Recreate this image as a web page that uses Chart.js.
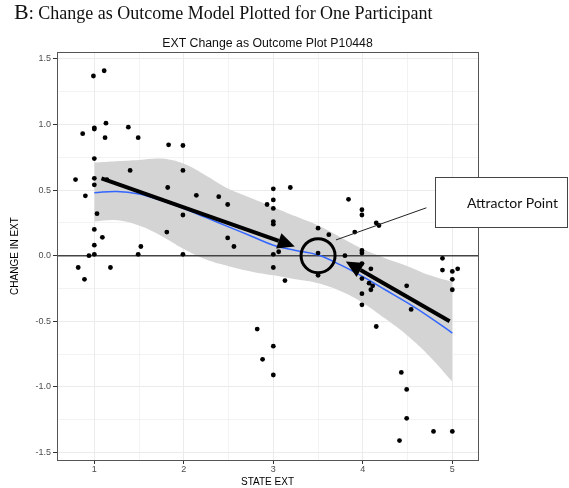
<!DOCTYPE html>
<html>
<head>
<meta charset="utf-8">
<script src="https://cdn.jsdelivr.net/npm/chart.js@4/dist/chart.umd.min.js"></script>
<style>
  html, body { margin: 0; padding: 0; background: #fff; }
  #wrap { width: 569px; height: 488px; }
</style>
</head>
<body>
<div id="wrap"><canvas id="attractorChart" width="569" height="488"></canvas></div>
<script>
// 散布図の値（STATE EXT と CHANGE IN EXT）
const stateExt = [
  1.11, 0.99, 0.87, 1.00, 1.00, 1.13, 1.12, 1.38, 1.49, 1.83, 1.99, 1.00, 0.79, 1.00, 1.00,
  1.14, 1.40, 1.99, 1.82, 0.90, 1.03, 1.00, 1.09, 1.00, 1.00, 0.94, 0.82, 0.89, 1.18, 1.49,
  1.52, 1.81, 1.99, 1.99, 2.14, 2.39, 2.49, 3.00, 3.19, 2.93, 3.00, 3.00, 3.00, 3.00, 2.49,
  2.56, 3.06, 3.00, 3.00, 3.13, 3.50, 3.62, 3.50, 3.50, 3.84, 3.80, 3.99, 3.99, 4.15, 4.18,
  3.91, 3.99, 3.99, 3.99, 4.09, 3.99, 4.07, 4.11, 4.09, 3.99, 3.99, 4.49, 4.54, 4.89, 4.89,
  5.00, 5.06, 5.00, 5.00, 4.15, 4.43, 4.49, 4.49, 4.79, 5.00, 4.41, 2.82, 3.00, 2.88, 3.00
];
const changeExt = [
  1.41, 1.37, 0.93, 0.975, 0.965, 1.01, 0.90, 0.98, 0.90, 0.845, 0.84, 0.74, 0.58, 0.59, 0.54,
  0.58, 0.65, 0.65, 0.52, 0.456, 0.32, 0.20, 0.14, 0.08, 0.01, 0.00, -0.09, -0.18, -0.09, 0.01,
  0.07, 0.18, 0.31, 0.01, 0.46, 0.45, 0.39, 0.51, 0.52, 0.39, 0.425, 0.36, 0.26, 0.24, 0.135,
  0.07, 0.03, 0.01, -0.09, -0.19, 0.21, 0.16, 0.02, -0.15, 0.43, 0.00, 0.35, 0.31, 0.25, 0.23,
  0.18, 0.04, 0.02, -0.06, -0.10, -0.175, -0.21, -0.23, -0.26, -0.29, -0.375, -0.23, -0.41, -0.02, -0.11,
  -0.12, -0.10, -0.18, -0.26, -0.54, -0.89, -1.02, -1.24, -1.34, -1.34, -1.41, -0.56, -0.69, -0.79, -0.91
];

// loess 曲線と信頼区間
const smoothX = [1.0, 1.25, 1.5, 1.75, 2.0, 2.25, 2.5, 2.75, 3.0, 3.25, 3.5, 3.75, 4.0, 4.25, 4.5, 4.75, 5.0];
const smoothY = [0.48, 0.49, 0.47, 0.42, 0.36, 0.29, 0.22, 0.15, 0.08, 0.04, 0.005, -0.07, -0.16, -0.26, -0.36, -0.47, -0.59];
const bandUpper = [0.71, 0.72, 0.73, 0.74, 0.70, 0.61, 0.51, 0.44, 0.37, 0.30, 0.23, 0.14, 0.05, -0.02, -0.08, -0.15, -0.20];
const bandLower = [0.26, 0.27, 0.23, 0.15, 0.05, -0.03, -0.08, -0.12, -0.15, -0.18, -0.21, -0.27, -0.36, -0.48, -0.61, -0.77, -0.96];

// 目盛り
const xTicks = [1, 1.5, 2, 2.5, 3, 3.5, 4, 4.5, 5];
const yTicks = [-1.5, -1.25, -1, -0.75, -0.5, -0.25, 0, 0.25, 0.5, 0.75, 1, 1.25, 1.5];

// 注釈（矢印・円・引き出し線）データ座標
const arrowStarts = [[1.08, 0.59], [4.97, -0.50]];
const arrowEnds = [[3.24, 0.07], [3.81, -0.045]];
const attractorPoint = [3.5, 0.0];
const leaderLine = [[4.71, 0.365], [3.70, 0.12]];

const points = stateExt.map((x, i) => ({ x: x, y: changeExt[i] }));
const toXY = (ys) => smoothX.map((x, i) => ({ x: x, y: ys[i] }));
const isHalf = (v) => Math.abs(v * 2 - Math.round(v * 2)) < 1e-9;

function drawArrow(ctx, x1, y1, x2, y2) {
    const ang = Math.atan2(y2 - y1, x2 - x1);
    const head = 17, hw = 8;
    const bx = x2 - head * Math.cos(ang), by = y2 - head * Math.sin(ang);
    ctx.lineWidth = 4;
    ctx.beginPath();
    ctx.moveTo(x1, y1);
    ctx.lineTo(bx, by);
    ctx.stroke();
    ctx.beginPath();
    ctx.moveTo(x2, y2);
    ctx.lineTo(bx + hw * Math.sin(ang), by - hw * Math.cos(ang));
    ctx.lineTo(bx - hw * Math.sin(ang), by + hw * Math.cos(ang));
    ctx.closePath();
    ctx.fill();
}

const annotationPlugin = {
    id: 'attractorNotes',
    beforeDatasetDraw(chart, args) {
        // 0 の水平線は信頼区間の上、曲線の下
        if (args.index !== 1) return;
        const { ctx, chartArea, scales } = chart;
        const y0 = scales.y.getPixelForValue(0);
        ctx.save();
        ctx.strokeStyle = '#444';
        ctx.lineWidth = 1.5;
        ctx.beginPath();
        ctx.moveTo(chartArea.left, y0);
        ctx.lineTo(chartArea.right, y0);
        ctx.stroke();
        ctx.restore();
    },
    afterDraw(chart) {
        const { ctx, chartArea, scales } = chart;
        const px = (v) => scales.x.getPixelForValue(v);
        const py = (v) => scales.y.getPixelForValue(v);
        ctx.save();

        // パネル枠
        ctx.strokeStyle = '#555';
        ctx.lineWidth = 1;
        ctx.strokeRect(chartArea.left + 0.5, chartArea.top + 0.5, chartArea.right - chartArea.left, chartArea.bottom - chartArea.top);

        // 矢印
        ctx.strokeStyle = '#000';
        ctx.fillStyle = '#000';
        arrowStarts.forEach((s, i) => {
            drawArrow(ctx, px(s[0]), py(s[1]), px(arrowEnds[i][0]), py(arrowEnds[i][1]));
        });

        // アトラクター点の円
        ctx.lineWidth = 3;
        ctx.beginPath();
        ctx.arc(px(attractorPoint[0]), py(attractorPoint[1]), 17, 0, Math.PI * 2);
        ctx.stroke();

        // 引き出し線
        ctx.lineWidth = 1;
        ctx.strokeStyle = '#222';
        ctx.beginPath();
        ctx.moveTo(px(leaderLine[0][0]), py(leaderLine[0][1]));
        ctx.lineTo(px(leaderLine[1][0]), py(leaderLine[1][1]));
        ctx.stroke();

        // 吹き出しボックス
        ctx.fillStyle = '#fff';
        ctx.fillRect(435, 177, 134, 50);
        ctx.strokeStyle = '#444';
        ctx.strokeRect(435.5, 177.5, 132, 50);
        ctx.fillStyle = '#111';
        ctx.font = '14px Lato';
        ctx.textBaseline = 'middle';
        ctx.textAlign = 'left';
        ctx.fillText('Attractor Point', 467, 203);

        // タイトル
        ctx.textBaseline = 'alphabetic';
        ctx.font = '22px "Liberation Serif"';
        ctx.fillText('B', 14, 19);
        const bw = ctx.measureText('B').width;
        ctx.font = '18px "Liberation Serif"';
        ctx.fillText(': Change as Outcome Model Plotted for One Participant', 14 + bw, 19);

        ctx.font = '12.3px "Liberation Sans"';
        ctx.textAlign = 'center';
        ctx.fillText('EXT Change as Outcome Plot P10448', (chartArea.left + chartArea.right) / 2, 47);
        ctx.restore();
    }
};

const ctx = document.getElementById('attractorChart').getContext('2d');
new Chart(ctx, {
    type: 'scatter',
    data: {
        datasets: [
            {
                label: 'points',
                data: points,
                backgroundColor: '#000',
                borderWidth: 0,
                pointRadius: 2.4,
                order: 0
            },
            {
                label: 'loess',
                data: toXY(smoothY),
                showLine: true,
                borderColor: '#3366ff',
                borderWidth: 1.5,
                pointRadius: 0,
                tension: 0.4,
                order: 1
            },
            {
                label: 'upper',
                data: toXY(bandUpper),
                showLine: true,
                borderWidth: 0,
                borderColor: 'rgba(0,0,0,0)',
                backgroundColor: '#d4d4d4',
                pointRadius: 0,
                tension: 0.4,
                fill: '+1',
                order: 3
            },
            {
                label: 'lower',
                data: toXY(bandLower),
                showLine: true,
                borderWidth: 0,
                borderColor: 'rgba(0,0,0,0)',
                pointRadius: 0,
                tension: 0.4,
                order: 4
            }
        ]
    },
    options: {
        responsive: false,
        animation: false,
        layout: { padding: { top: 52, right: 91, left: 0, bottom: 0 } },
        plugins: {
            legend: { display: false },
            tooltip: { enabled: false }
        },
        scales: {
            x: {
                type: 'linear',
                min: 0.583,
                max: 5.287,
                afterBuildTicks: (scale) => { scale.ticks = xTicks.map(v => ({ value: v })); },
                afterFit: (scale) => { scale.height = 28; },
                ticks: {
                    autoSkip: false,
                    maxRotation: 0,
                    padding: 0,
                    color: '#4d4d4d',
                    font: { family: '"Liberation Sans"', size: 9 },
                    callback: (v) => Number.isInteger(v) ? String(v) : ''
                },
                grid: {
                    color: '#ebebeb',
                    lineWidth: (c) => Number.isInteger(c.tick.value) ? 1 : 0.6,
                    tickLength: 4,
                    tickColor: (c) => Number.isInteger(c.tick.value) ? '#333' : 'rgba(0,0,0,0)'
                },
                border: { color: '#333', width: 1 },
                title: {
                    display: true,
                    text: 'STATE EXT',
                    color: '#000',
                    padding: { top: 0, bottom: 0 },
                    font: { family: '"Liberation Sans"', size: 10 }
                }
            },
            y: {
                min: -1.558,
                max: 1.553,
                afterBuildTicks: (scale) => { scale.ticks = yTicks.map(v => ({ value: v })); },
                afterFit: (scale) => { scale.width = 57; },
                ticks: {
                    autoSkip: false,
                    padding: 2,
                    color: '#4d4d4d',
                    font: { family: '"Liberation Sans"', size: 9 },
                    callback: (v) => isHalf(v) ? v.toFixed(1) : ''
                },
                grid: {
                    color: '#ebebeb',
                    lineWidth: (c) => isHalf(c.tick.value) ? 1 : 0.6,
                    tickLength: 4,
                    tickColor: (c) => isHalf(c.tick.value) ? '#333' : 'rgba(0,0,0,0)'
                },
                border: { color: '#333', width: 1 },
                title: {
                    display: true,
                    text: 'CHANGE IN EXT',
                    color: '#000',
                    padding: { top: 9, bottom: 4 },
                    font: { family: '"Liberation Sans"', size: 10 }
                }
            }
        }
    },
    plugins: [annotationPlugin]
});
</script>
</body>
</html>
